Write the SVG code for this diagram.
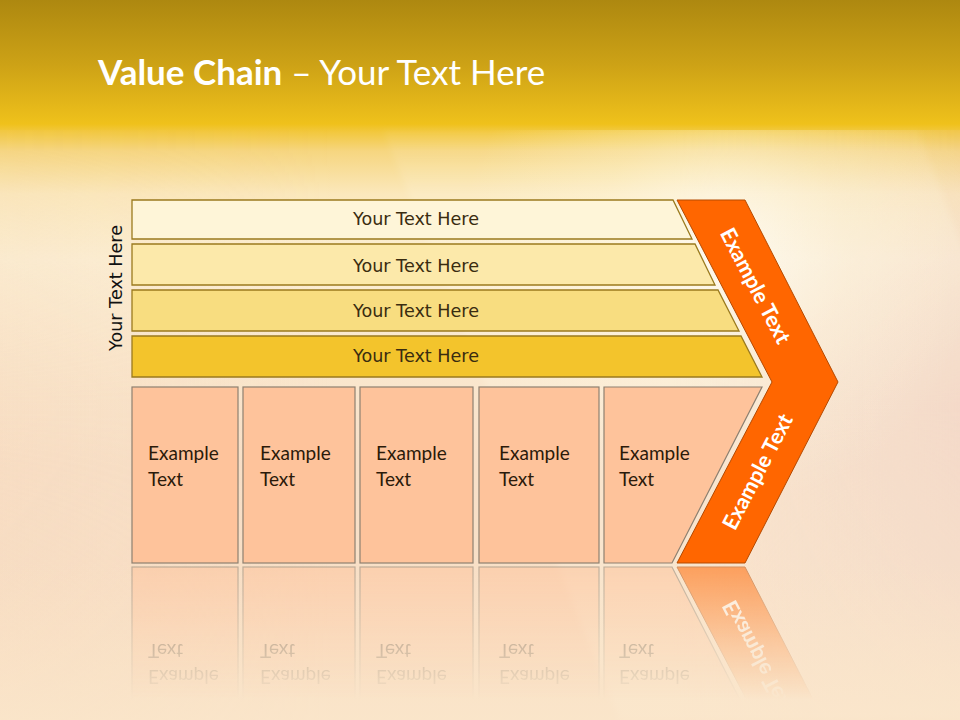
<svg xmlns="http://www.w3.org/2000/svg" xmlns:xlink="http://www.w3.org/1999/xlink" width="960" height="720" viewBox="0 0 960 720">
  <defs>
    <style>
      .title-b { font-family: "Lato", "Open Sans", sans-serif; font-weight: 700; font-size: 35px; fill: #ffffff; }
      .title-r { font-family: "Lato", "Open Sans", sans-serif; font-weight: 400; font-size: 35px; fill: #ffffff; }
      .bar { stroke: #9a7a1e; stroke-width: 1.3; }
      .bar-text { font-family: "DejaVu Sans", "Noto Sans", sans-serif; font-size: 17.6px; fill: #3a2c10; text-anchor: middle; }
      .side-text { font-family: "DejaVu Sans", "Noto Sans", sans-serif; font-size: 17.6px; fill: #111111; text-anchor: middle; }
      .box { fill: #fec39b; stroke: #8e8070; stroke-width: 1.2; }
      .box-text { font-family: "Lato", "Open Sans", sans-serif; font-size: 19px; fill: #2b1a0a; }
      .chev { fill: #ff6600; stroke: #b54a00; stroke-width: 1; }
      .chev-text { font-family: "Lato", "Open Sans", sans-serif; font-weight: 700; font-size: 21.5px; fill: #ffffff; text-anchor: middle; }
    </style>
    <linearGradient id="bgBase" x1="0" y1="0" x2="0" y2="720" gradientUnits="userSpaceOnUse">
      <stop offset="0" stop-color="#ad8810"/>
      <stop offset="0.09" stop-color="#cda216"/>
      <stop offset="0.172" stop-color="#efc11b"/>
      <stop offset="0.182" stop-color="#f2c73a"/>
      <stop offset="0.21" stop-color="#f6d680"/>
      <stop offset="0.27" stop-color="#fbe8bc"/>
      <stop offset="0.36" stop-color="#fcefd4"/>
      <stop offset="0.65" stop-color="#f8e0c8"/>
      <stop offset="1" stop-color="#f8dec4"/>
    </linearGradient>
    <linearGradient id="rightTint" x1="0" y1="0" x2="960" y2="0" gradientUnits="userSpaceOnUse">
      <stop offset="0" stop-color="#f6d6b8" stop-opacity="0.35"/>
      <stop offset="0.35" stop-color="#f6d6b8" stop-opacity="0"/>
      <stop offset="0.7" stop-color="#eecbbd" stop-opacity="0"/>
      <stop offset="1" stop-color="#eecbbd" stop-opacity="0.75"/>
    </linearGradient>
    <linearGradient id="rightTintMask" x1="0" y1="150" x2="0" y2="720" gradientUnits="userSpaceOnUse">
      <stop offset="0" stop-color="#fff" stop-opacity="0.2"/>
      <stop offset="0.45" stop-color="#fff" stop-opacity="1"/>
      <stop offset="1" stop-color="#fff" stop-opacity="0.3"/>
    </linearGradient>
    <mask id="tintMask" maskUnits="userSpaceOnUse" x="0" y="0" width="960" height="720">
      <rect x="0" y="130" width="960" height="590" fill="url(#rightTintMask)"/>
    </mask>
    <radialGradient id="glow" cx="720" cy="250" r="260" gradientUnits="userSpaceOnUse">
      <stop offset="0" stop-color="#ffffff" stop-opacity="0.65"/>
      <stop offset="0.5" stop-color="#fffbe8" stop-opacity="0.25"/>
      <stop offset="1" stop-color="#fffbe8" stop-opacity="0"/>
    </radialGradient>
    <linearGradient id="bottomWarm" x1="0" y1="560" x2="0" y2="720" gradientUnits="userSpaceOnUse">
      <stop offset="0" stop-color="#fbe6c8" stop-opacity="0"/>
      <stop offset="1" stop-color="#fbe8cc" stop-opacity="0.7"/>
    </linearGradient>
    <linearGradient id="streakFade" x1="0" y1="128" x2="0" y2="720" gradientUnits="userSpaceOnUse">
      <stop offset="0" stop-color="#fffbea" stop-opacity="0.05"/>
      <stop offset="0.15" stop-color="#fffbea" stop-opacity="0.2"/>
      <stop offset="1" stop-color="#fffbea" stop-opacity="0.2"/>
    </linearGradient>
    <filter id="soft" x="-10%" y="-10%" width="120%" height="120%">
      <feGaussianBlur stdDeviation="3"/>
    </filter>
    <linearGradient id="fade" x1="0" y1="565" x2="0" y2="700" gradientUnits="userSpaceOnUse">
      <stop offset="0" stop-color="#fff" stop-opacity="0.55"/>
      <stop offset="0.6" stop-color="#fff" stop-opacity="0.2"/>
      <stop offset="1" stop-color="#fff" stop-opacity="0"/>
    </linearGradient>
    <mask id="reflMask" maskUnits="userSpaceOnUse" x="0" y="0" width="960" height="720">
      <rect x="0" y="565" width="960" height="155" fill="url(#fade)"/>
    </mask>
  </defs>

  <g id="background">
    <rect x="0" y="0" width="960" height="720" fill="url(#bgBase)"/>
    <rect x="0" y="130" width="960" height="590" fill="url(#rightTint)" mask="url(#tintMask)"/>
    <polygon points="383,130 918,130 1140,720 620,720" fill="url(#streakFade)" filter="url(#soft)"/>
    <rect x="0" y="130" width="960" height="590" fill="url(#glow)"/>
    <rect x="0" y="560" width="960" height="160" fill="url(#bottomWarm)"/>
  </g>

  <g id="title">
    <text x="98" y="85"><tspan class="title-b">Value Chain</tspan><tspan class="title-r"> – Your Text Here</tspan></text>
  </g>

  <g id="side-label">
    <text class="side-text" transform="translate(122,288) rotate(-90)" x="0" y="0">Your Text Here</text>
  </g>

  <g id="support-1">
    <polygon class="bar" points="132,200 673,200 692,239 132,239" fill="#fef5d8"/>
    <text class="bar-text" x="416" y="225">Your Text Here</text>
  </g>
  <g id="support-2">
    <polygon class="bar" points="132,244 695,244 715,285 132,285" fill="#fce9aa"/>
    <text class="bar-text" x="416" y="272">Your Text Here</text>
  </g>
  <g id="support-3">
    <polygon class="bar" points="132,290 718,290 739,331 132,331" fill="#f8dd80"/>
    <text class="bar-text" x="416" y="317">Your Text Here</text>
  </g>
  <g id="support-4">
    <polygon class="bar" points="132,336 741,336 762,377 132,377" fill="#f3c42c"/>
    <text class="bar-text" x="416" y="362">Your Text Here</text>
  </g>

  <g id="primary-activities">
    <g id="activity-1">
      <rect class="box" x="132" y="387" width="106" height="176"/>
      <text class="box-text" x="148" y="460">Example</text>
      <text class="box-text" x="148" y="486">Text</text>
    </g>
    <g id="activity-2">
      <rect class="box" x="243" y="387" width="112" height="176"/>
      <text class="box-text" x="260" y="460">Example</text>
      <text class="box-text" x="260" y="486">Text</text>
    </g>
    <g id="activity-3">
      <rect class="box" x="360" y="387" width="113" height="176"/>
      <text class="box-text" x="376" y="460">Example</text>
      <text class="box-text" x="376" y="486">Text</text>
    </g>
    <g id="activity-4">
      <rect class="box" x="479" y="387" width="120" height="176"/>
      <text class="box-text" x="499" y="460">Example</text>
      <text class="box-text" x="499" y="486">Text</text>
    </g>
    <g id="activity-5">
      <polygon class="box" points="604,387 762,387 672,563 604,563"/>
      <text class="box-text" x="619" y="460">Example</text>
      <text class="box-text" x="619" y="486">Text</text>
    </g>
  </g>

  <g id="margin-chevron">
    <polygon class="chev" points="677,200 745,200 838,382 745,563 677,563 772,382"/>
    <text class="chev-text" transform="translate(755,286) rotate(62.5)" x="0" y="7">Example Text</text>
    <text class="chev-text" transform="translate(758,472) rotate(-62.5)" x="0" y="7">Example Text</text>
  </g>

  <g id="connectors"></g>

  <g id="reflection" mask="url(#reflMask)">
    <use xlink:href="#primary-activities" href="#primary-activities" transform="translate(0,1130) scale(1,-1)"/>
    <use xlink:href="#margin-chevron" href="#margin-chevron" transform="translate(0,1130) scale(1,-1)"/>
  </g>
</svg>
